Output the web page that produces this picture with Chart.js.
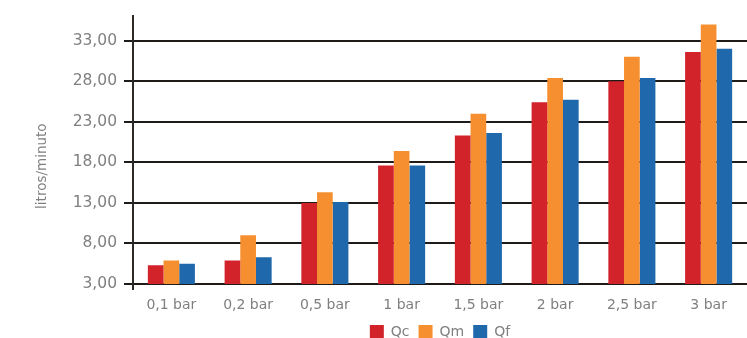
<!DOCTYPE html>
<html>
<head>
<meta charset="utf-8">
<script src="https://cdn.jsdelivr.net/npm/chart.js@4/dist/chart.umd.min.js"></script>
<style>
  html, body { margin: 0; padding: 0; background: #fff; overflow: hidden; }
  #wrap { position: absolute; left: 0; top: 0; width: 747px; height: 349px; }
</style>
</head>
<body>
<div id="wrap"><canvas id="chart"></canvas></div>
<script>
// pressure steps and measured flow per outlet (litros/minuto)
const categories = ['0,1 bar', '0,2 bar', '0,5 bar', '1 bar', '1,5 bar', '2 bar', '2,5 bar', '3 bar'];
const qc = [5.3, 5.9, 13.0, 17.6, 21.3, 25.4, 28.0, 31.6];
const qm = [5.9, 9.0, 14.3, 19.4, 24.0, 28.4, 31.0, 35.0];
const qf = [5.5, 6.3, 13.1, 17.6, 21.6, 25.7, 28.4, 32.0];
const yTicks = [3, 8, 13, 18, 23, 28, 33];
const yTitle = 'litros/minuto';

const textGrey = '#7f7f7f';
const lineDark = '#1f1b18';
const axisDark = '#2d2824';
const fontFamily = '"DejaVu Sans", Verdana, sans-serif';

// rotated axis title, sits a bit below the middle of the axis
const yTitlePlugin = {
    id: 'yTitle',
    afterDraw(chart) {
        const area = chart.chartArea;
        const ctx = chart.ctx;
        ctx.save();
        ctx.translate(area.left - 90.5, (area.top + area.bottom) / 2 + 16);
        ctx.rotate(-Math.PI / 2);
        ctx.font = '13.5px ' + fontFamily;
        ctx.fillStyle = textGrey;
        ctx.textAlign = 'center';
        ctx.textBaseline = 'middle';
        ctx.fillText(yTitle, 0, 0);
        ctx.restore();
    }
};

var config = {
    type: 'bar',
    data: {
        labels: categories,
        datasets: [
            { label: 'Qc', data: qc, backgroundColor: '#d2232b' },
            { label: 'Qm', data: qm, backgroundColor: '#f58f2f' },
            { label: 'Qf', data: qf, backgroundColor: '#1f68ab' }
        ]
    },
    options: {
        responsive: true,
        maintainAspectRatio: false,
        animation: false,
        layout: {
            padding: { left: 0, right: 0, top: 15, bottom: 0 }
        },
        datasets: {
            bar: {
                categoryPercentage: 0.613,
                barPercentage: 1.0,
                borderWidth: 0
            }
        },
        scales: {
            x: {
                afterFit: function(scale) { scale.height = 32; },
                grid: {
                    drawOnChartArea: false,
                    tickLength: 6,
                    lineWidth: 2,
                    // only the tick under the y axis is visible
                    color: function(c) { return c.index === 0 ? axisDark : 'rgba(0,0,0,0)'; }
                },
                border: { display: true, color: lineDark, width: 2 },
                ticks: {
                    color: textGrey,
                    padding: 7,
                    font: { family: fontFamily, size: 14 }
                }
            },
            y: {
                min: 3,
                max: 36,
                afterFit: function(scale) { scale.width = 133; },
                afterBuildTicks: function(scale) {
                    scale.ticks = yTicks.map(v => ({ value: v }));
                },
                grid: {
                    color: lineDark,
                    lineWidth: 2,
                    tickLength: 9
                },
                border: { display: true, color: axisDark, width: 2 },
                ticks: {
                    color: textGrey,
                    padding: 7,
                    font: { family: fontFamily, size: 15.5 },
                    callback: function(value) {
                        return value.toFixed(2).replace('.', ',');
                    }
                }
            }
        },
        plugins: {
            legend: {
                position: 'bottom',
                fullSize: false,
                labels: {
                    boxWidth: 14,
                    boxHeight: 14,
                    padding: 9,
                    color: textGrey,
                    font: { family: fontFamily, size: 14 }
                }
            },
            tooltip: { enabled: false }
        }
    },
    plugins: [yTitlePlugin]
};

new Chart(document.getElementById('chart').getContext('2d'), config);
</script>
</body>
</html>
